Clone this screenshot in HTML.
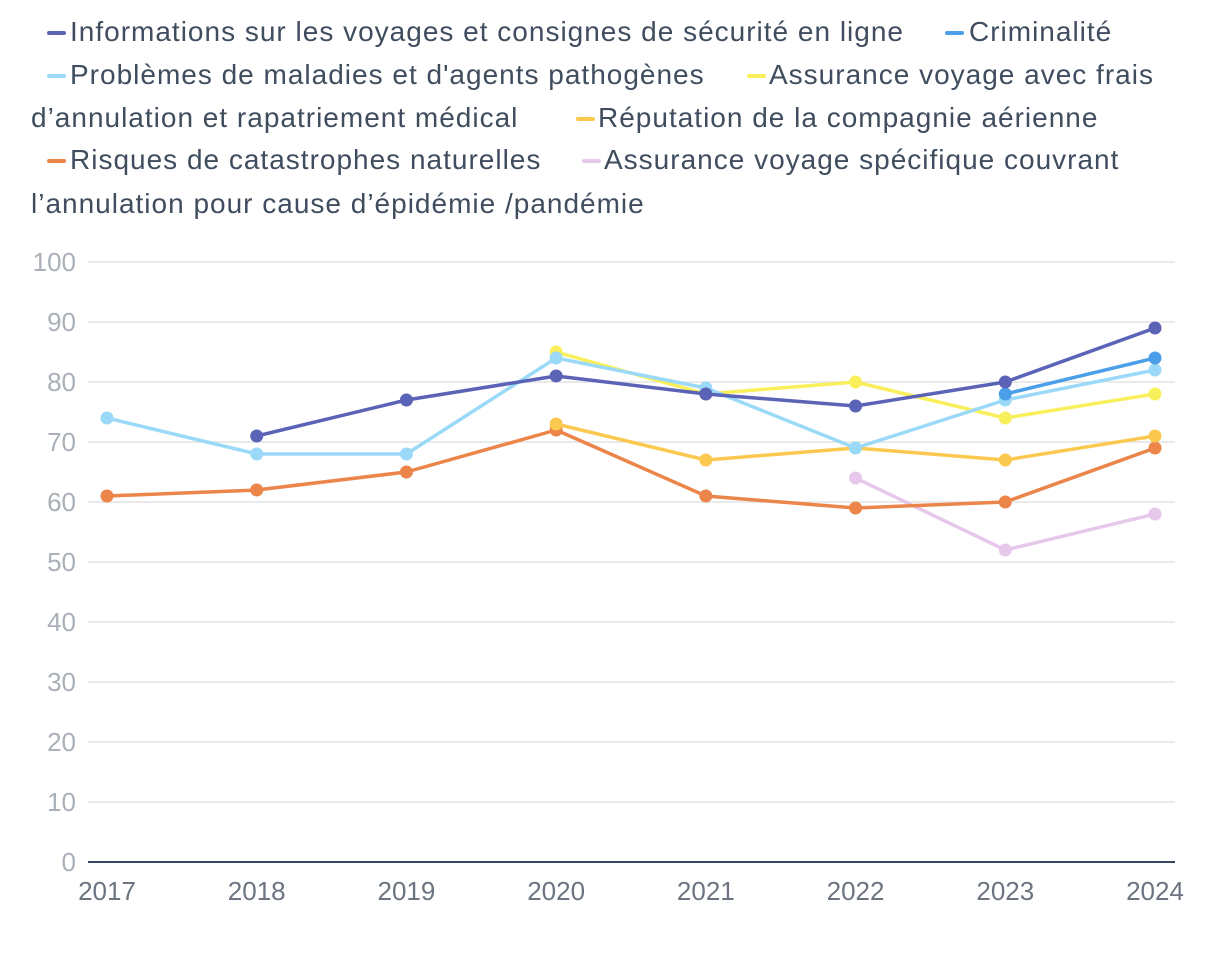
<!DOCTYPE html>
<html><head><meta charset="utf-8">
<style>
body{margin:0;width:1220px;height:960px;background:#fff;font-family:"Liberation Sans",sans-serif;overflow:hidden;position:relative}
.lg{position:absolute;font-size:28px;letter-spacing:1px;color:#3f4d5e;white-space:nowrap;line-height:32px}
.mk{position:absolute;width:19px;height:4px;border-radius:2px}
</style></head><body>
<div>
<div class="mk" style="left:47px;top:31px;background:#5b63b7"></div>
<div class="lg" style="left:70px;top:16px">Informations sur les voyages et consignes de sécurité en ligne</div>
<div class="mk" style="left:945px;top:31px;background:#4a9fe8"></div>
<div class="lg" style="left:969px;top:16px">Criminalité</div>
<div class="mk" style="left:47px;top:74px;background:#9ad9f7"></div>
<div class="lg" style="left:70px;top:59px">Problèmes de maladies et d'agents pathogènes</div>
<div class="mk" style="left:747px;top:74px;background:#f9ef5a"></div>
<div class="lg" style="left:769px;top:59px">Assurance voyage avec frais</div>
<div class="lg" style="left:31px;top:102px">d’annulation et rapatriement médical</div>
<div class="mk" style="left:576px;top:117px;background:#fbc94f"></div>
<div class="lg" style="left:598px;top:102px">Réputation de la compagnie aérienne</div>
<div class="mk" style="left:47px;top:159px;background:#eb8549"></div>
<div class="lg" style="left:70px;top:144px">Risques de catastrophes naturelles</div>
<div class="mk" style="left:582px;top:159px;background:#e5c8ea"></div>
<div class="lg" style="left:604px;top:144px">Assurance voyage spécifique couvrant</div>
<div class="lg" style="left:31px;top:188px">l’annulation pour cause d’épidémie /pandémie</div>
</div>
<svg id="chart" width="1220" height="960" style="position:absolute;left:0;top:0"></svg>
<script>
const years=["2017","2018","2019","2020","2021","2022","2023","2024"];
const yTicks=[0,10,20,30,40,50,60,70,80,90,100];
const informations=[null,71,77,81,78,76,80,89];
const criminalite=[null,null,null,null,null,null,78,84];
const maladies=[74,68,68,84,79,69,77,82];
const assuranceFrais=[null,null,null,85,78,80,74,78];
const reputation=[null,null,null,73,67,69,67,71];
const risques=[61,62,65,72,61,59,60,69];
const epidemie=[null,null,null,null,null,64,52,58];
const seriesList=[
 {name:"epidemie",vals:epidemie,c:"#e5c8ea"},
 {name:"risques",vals:risques,c:"#eb8549"},
 {name:"reputation",vals:reputation,c:"#fbc94f"},
 {name:"assurance-frais",vals:assuranceFrais,c:"#f9ef5a"},
 {name:"maladies",vals:maladies,c:"#9ad9f7"},
 {name:"criminalite",vals:criminalite,c:"#4a9fe8"},
 {name:"informations",vals:informations,c:"#5b63b7"}
];
const NS="http://www.w3.org/2000/svg";
const svg=document.getElementById("chart");
const X=i=>107+i*(1155-107)/7;
const Y=v=>862-v*6;
function mk(t,a,p){const e=document.createElementNS(NS,t);for(const k in a)e.setAttribute(k,a[k]);(p||svg).appendChild(e);return e;}
yTicks.forEach(t=>{
 if(t>0){const g=mk("line",{x1:88,x2:1175,y1:Y(t),y2:Y(t),stroke:"#e3e3e3","stroke-width":1.5});
 
 }
 const l=mk("text",{x:76,y:Y(t)+9,"text-anchor":"end","font-size":26,fill:"#aab0b8","font-family":"Liberation Sans, sans-serif"});
 l.textContent=t;
 
 
});
const ax=mk("line",{x1:88,x2:1175,y1:862,y2:862,stroke:"#34495e","stroke-width":2});


years.forEach((y,i)=>{
 const l=mk("text",{x:X(i),y:900,"text-anchor":"middle","font-size":26,fill:"#6b7480","font-family":"Liberation Sans, sans-serif"});
 l.textContent=y;
 
 
});
seriesList.forEach(s=>{
 const g=mk("g",{});
 
 
 let d="";
 s.vals.forEach((v,i)=>{if(v==null)return;d+=(d?"L":"M")+X(i)+","+Y(v);});
 const p=mk("path",{d:d,fill:"none",stroke:s.c,"stroke-width":3.5,"stroke-linejoin":"round"},g);
 
 
 s.vals.forEach((v,i)=>{if(v==null)return;
  const c=mk("circle",{cx:X(i),cy:Y(v),r:6.5,fill:s.c},g);
  
  
 });
});
</script>
</body></html>
